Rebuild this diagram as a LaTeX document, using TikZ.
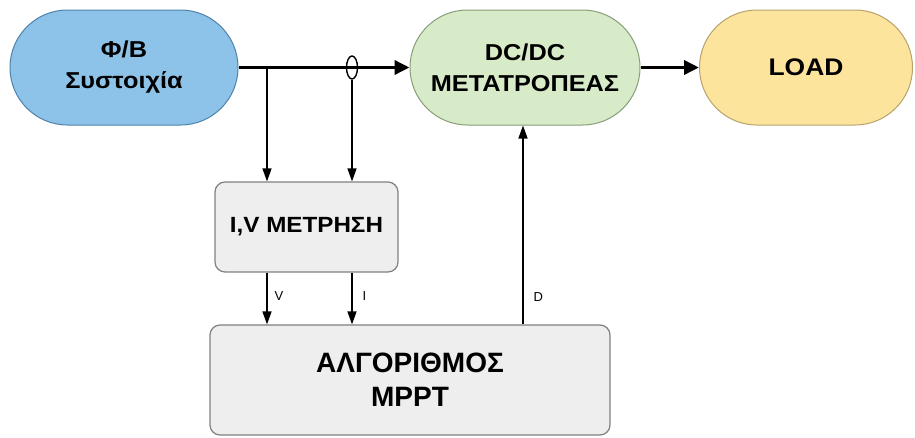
\documentclass[tikz,border=0pt]{standalone}
\usepackage{fontspec}
\setmainfont{Liberation Sans}
\newfontfamily\widesans[FakeStretch=1.1]{Liberation Sans}
\usetikzlibrary{arrows.meta,shapes.geometric}

\definecolor{pvfill}{HTML}{8DC3E8}
\definecolor{pvline}{HTML}{4F82AA}
\definecolor{dcfill}{HTML}{D8EBC9}
\definecolor{dcline}{HTML}{869E77}
\definecolor{ldfill}{HTML}{FDE49D}
\definecolor{ldline}{HTML}{B7A26C}
\definecolor{bxfill}{HTML}{EEEEEE}
\definecolor{bxline}{HTML}{808080}

\tikzset{
  pill/.style={rectangle, rounded corners=57.5pt, minimum height=115pt,
    inner sep=0pt, line width=1pt, align=center,
    font=\widesans\fontsize{23}{31}\selectfont\bfseries},
  block/.style={rectangle, rounded corners=10pt, draw=bxline, fill=bxfill,
    line width=1.2pt, inner sep=0pt, align=center},
  bus/.style={line width=3.5pt, -{Triangle[length=15pt,width=14pt]}},
  sig/.style={line width=1.4pt, -{Triangle[length=13pt,width=9pt]}},
  wire/.style={line width=1.4pt},
  tag/.style={font=\fontsize{13}{13}\selectfont, inner sep=0pt}
}

\begin{document}
\begin{tikzpicture}[x=1pt,y=-1pt]
  \useasboundingbox (0,0) rectangle (915,437);

  % top row: source, converter, load
  \node[pill, draw=pvline, fill=pvfill, minimum width=228pt] (pv) at (124,67.5) {Φ/B\\Συστοιχία};
  \node[pill, draw=dcline, fill=dcfill, minimum width=230pt] (dc) at (525,67.5) {DC/DC\\ΜΕΤΑΤΡΟΠΕΑΣ};
  \node[pill, draw=ldline, fill=ldfill, minimum width=213pt,
        font=\widesans\fontsize{24}{24}\selectfont\bfseries] (ld) at (806,67.5) {LOAD};

  % measurement and control blocks
  \node[block, minimum width=183pt, minimum height=90pt,
        font=\widesans\fontsize{22}{22}\selectfont\bfseries] (iv) at (306.5,227) {I,V ΜΕΤΡΗΣΗ};
  \node[block, minimum width=400pt, minimum height=110pt,
        font=\fontsize{28}{34}\selectfont\bfseries] (mp) at (410,380) {ΑΛΓΟΡΙΘΜΟΣ\\MPPT};

  % power path
  \draw[bus] (pv.east) -- (dc.west);
  \draw[bus] (dc.east) -- (ld.west);

  % voltage tap and current sensor on the power path
  \coordinate (vt) at (267,67.5);
  \node[ellipse, draw, line width=1.4pt, minimum width=11pt, minimum height=23pt,
        inner sep=0pt] (ct) at (352,67.5) {};
  \draw[sig] (vt) -- (vt |- iv.north);
  \draw[sig] (ct.south) -- (ct.south |- iv.north);

  % measured signals into the algorithm
  \draw[sig] (iv.south -| vt) -- (mp.north -| vt) node[tag, pos=0.45, right=7pt] {V};
  \draw[sig] (iv.south -| ct) -- (mp.north -| ct) node[tag, pos=0.45, right=10pt] {I};

  % duty cycle back to the converter
  \coordinate (dd) at (523,0);
  \draw[sig] (mp.north -| dd) -- (dc.south -| dd) node[tag, pos=0.14, right=10pt] {D};
\end{tikzpicture}
\end{document}
